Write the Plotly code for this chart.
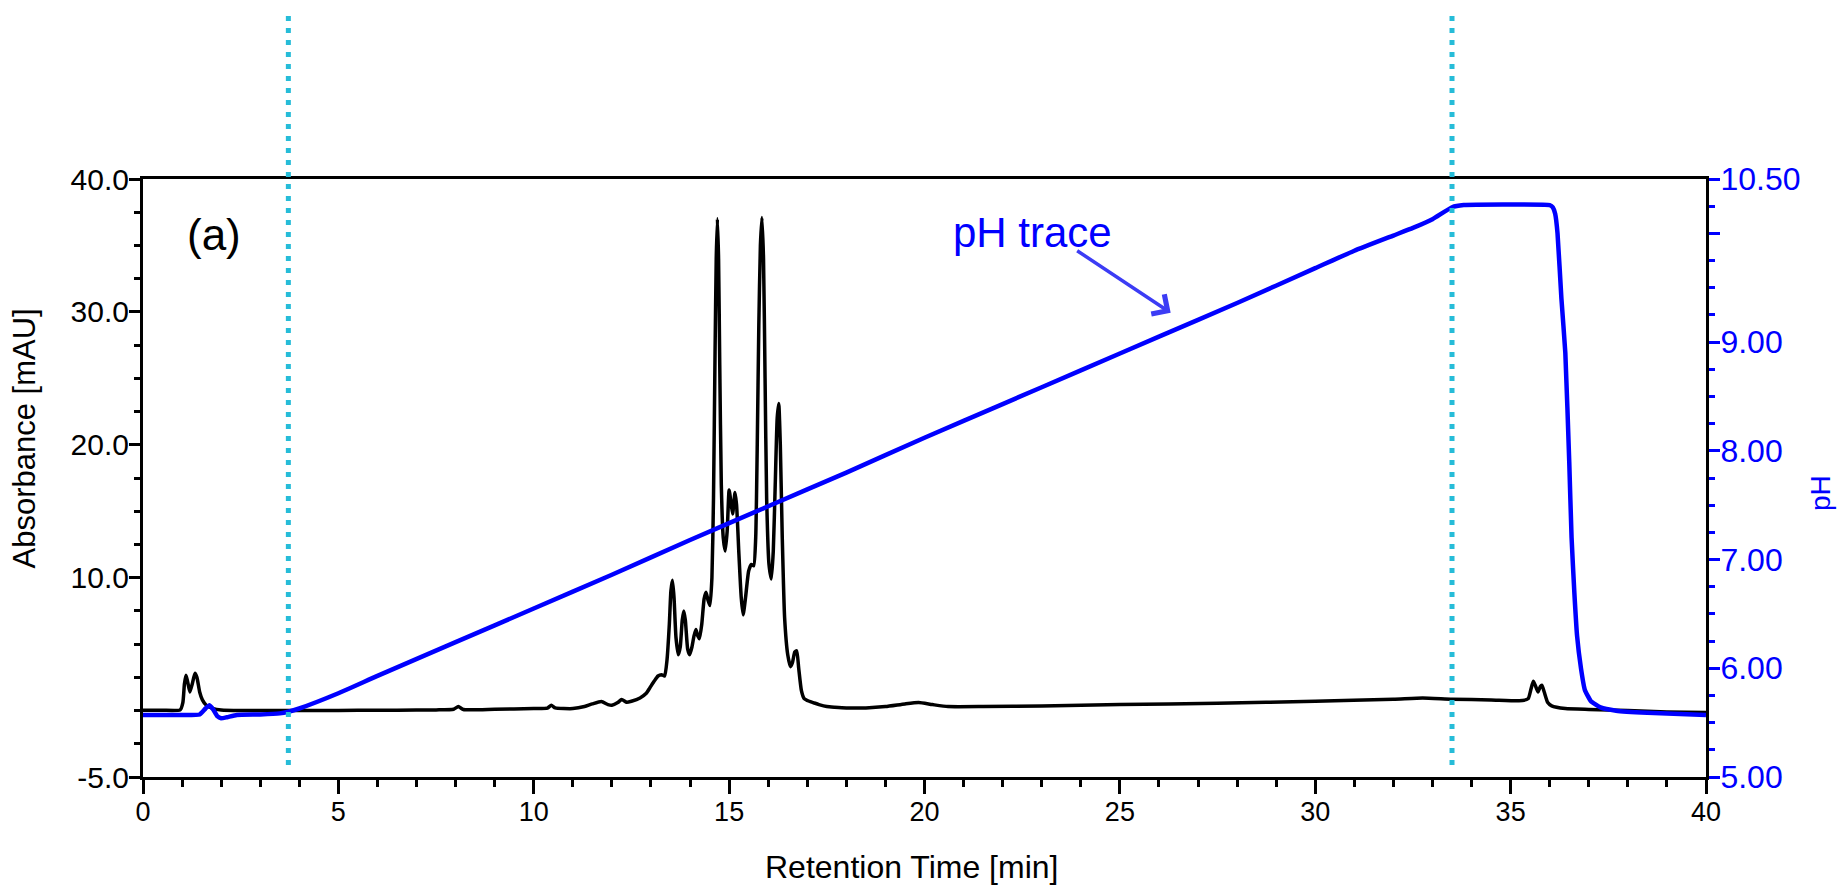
import plotly.graph_objects as go

# ---------------- data ----------------
time_abs = [0.0, 0.5, 0.95, 1.02, 1.06, 1.10, 1.14, 1.20, 1.26, 1.33, 1.38, 1.45, 1.52, 1.62, 1.80, 2.0,
            2.5, 3.0, 3.7, 4.5, 5.5, 6.5, 7.5, 7.95, 8.07, 8.2, 9.0, 10.0, 10.35, 10.45, 10.55, 11.0,
            11.3, 11.5, 11.73, 11.9, 12.0, 12.15, 12.25, 12.38, 12.5, 12.72, 12.88, 12.97, 13.08, 13.18,
            13.27, 13.35, 13.41, 13.47, 13.51, 13.55, 13.59, 13.64, 13.70, 13.75, 13.80, 13.84, 13.88,
            13.94, 13.99, 14.05, 14.10, 14.15, 14.20, 14.24, 14.30, 14.36, 14.41, 14.46, 14.51, 14.56,
            14.60, 14.64, 14.67, 14.70, 14.73, 14.76, 14.80, 14.85, 14.90, 14.95, 15.00, 15.05, 15.09,
            15.15, 15.19, 15.25, 15.31, 15.36, 15.42, 15.50, 15.57, 15.63, 15.68, 15.72, 15.76, 15.80,
            15.84, 15.88, 15.92, 15.96, 16.02, 16.08, 16.13, 16.18, 16.23, 16.27, 16.31, 16.36, 16.42,
            16.50, 16.57, 16.62, 16.68, 16.73, 16.78, 16.85, 16.92, 17.05, 17.15, 17.3, 17.5, 17.7,
            18.0, 18.5, 19.0, 19.5, 19.85, 20.2, 20.6, 21.5, 23.0, 25.0, 27.5, 30.0, 32.0, 32.75, 33.5,
            34.5, 35.3, 35.45, 35.52, 35.58, 35.63, 35.70, 35.76, 35.80, 35.86, 35.95, 36.05, 36.4,
            37.0, 38.0, 39.0, 40.0]
absorbance = [0.02, 0.02, 0.05, 0.6, 2.0, 2.65, 2.2, 1.4, 2.0, 2.8, 2.5, 1.4, 0.8, 0.4, 0.15, 0.05,
              0.0, 0.0, 0.0, 0.0, 0.02, 0.03, 0.05, 0.1, 0.3, 0.08, 0.1, 0.15, 0.18, 0.4, 0.2, 0.15,
              0.3, 0.5, 0.68, 0.45, 0.4, 0.6, 0.83, 0.62, 0.7, 0.95, 1.3, 1.7, 2.2, 2.6,
              2.7, 2.6, 3.8, 6.5, 9.0, 9.8, 8.5, 5.5, 4.2, 4.8, 6.8, 7.5, 6.8,
              4.6, 4.2, 4.8, 5.6, 6.1, 5.6, 5.4, 6.5, 8.4, 8.9, 8.3, 7.9, 10.0,
              16.0, 27.0, 34.0, 37.0, 34.0, 26.0, 17.0, 13.0, 12.0, 13.5, 16.6, 15.6, 14.8,
              16.4, 15.5, 11.8, 8.5, 7.2, 8.5, 10.5, 11.0, 10.9, 13.0, 20.0, 29.0, 35.0,
              37.1, 34.0, 25.0, 16.0, 11.0, 9.9, 12.0, 17.0, 22.0, 23.1, 20.0, 13.0, 7.0,
              4.2, 3.3, 3.6, 4.4, 4.5, 3.2, 1.5, 0.9, 0.7, 0.6, 0.45, 0.3, 0.25,
              0.2, 0.2, 0.3, 0.5, 0.6, 0.45, 0.3, 0.3, 0.35, 0.45, 0.55, 0.7, 0.85, 0.95, 0.85,
              0.8, 0.75, 0.9, 1.6, 2.2, 1.9, 1.4, 1.8, 1.9, 1.4, 0.6, 0.35, 0.15,
              0.08, 0.0, -0.1, -0.15]

time_ph = [0.0, 1.0, 1.45, 1.6, 1.7, 1.8, 1.9, 2.0, 2.15, 2.4, 3.0, 3.5, 3.72, 4.0, 5.0, 6.0, 8.0,
           10.0, 12.0, 14.0, 16.0, 18.0, 20.0, 22.0, 24.0, 26.0, 28.0, 30.0, 31.0, 32.0, 32.5,
           33.0, 33.5, 33.8, 35.0, 36.0, 36.08, 36.14, 36.2, 36.3, 36.4, 36.5, 36.56, 36.63,
           36.7, 36.8, 36.9, 37.05, 37.3, 37.7, 38.5, 40.0]
ph = [5.57, 5.57, 5.575, 5.63, 5.66, 5.62, 5.56, 5.54, 5.55, 5.57, 5.575, 5.585, 5.60, 5.63, 5.77, 5.93, 6.24,
      6.55, 6.86, 7.18, 7.49, 7.80, 8.12, 8.43, 8.74, 9.05, 9.36, 9.68, 9.84, 9.98, 10.05,
      10.13, 10.24, 10.26, 10.265, 10.26, 10.24, 10.18, 10.0, 9.4, 8.9, 7.9, 7.2, 6.7,
      6.3, 6.0, 5.8, 5.7, 5.64, 5.61, 5.59, 5.57]

x_tickvals = [0, 5, 10, 15, 20, 25, 30, 35, 40]
x_ticktext = ["0", "5", "10", "15", "20", "25", "30", "35", "40"]
y_tickvals = [-5, 10, 20, 30, 40]
y_ticktext = ["-5.0", "10.0", "20.0", "30.0", "40.0"]
y2_tickvals = [5, 6, 7, 8, 9, 10, 10.5]
y2_ticktext = ["5.00", "6.00", "7.00", "8.00", "9.00", "", "10.50"]
gradient_marks = [3.72, 33.5]
arrow_point = (26.3, 9.27)

BLUE = "#0000ff"
FONT = "Liberation Sans, Arial, sans-serif"

fig = go.Figure()
fig.add_trace(go.Scatter(x=time_abs, y=absorbance, mode="lines",
                         line=dict(color="black", width=3.5, shape="spline", smoothing=0.5),
                         yaxis="y", showlegend=False))
fig.add_trace(go.Scatter(x=time_ph, y=ph, mode="lines",
                         line=dict(color=BLUE, width=4.5, shape="spline", smoothing=0.4),
                         yaxis="y2", showlegend=False))

for xm in gradient_marks:
    fig.add_shape(type="line", x0=xm, x1=xm, xref="x", yref="paper", y0=0.02, y1=1.28,
                  line=dict(color="#26bcd8", width=5, dash="5px,7px"), layer="above")

fig.update_layout(
    width=1841, height=889,
    margin=dict(l=143, r=135, t=179, b=112),
    paper_bgcolor="white", plot_bgcolor="white",
    font=dict(family=FONT, color="black"),
    xaxis=dict(range=[0, 40], tickmode="array", tickvals=x_tickvals, ticktext=x_ticktext,
               showline=True, linecolor="black", linewidth=3, mirror=True,
               ticks="outside", ticklen=14, tickwidth=3, tickcolor="black",
               minor=dict(tickmode="linear", tick0=0, dtick=1, ticks="outside", ticklen=7,
                          tickwidth=3, tickcolor="black"),
               tickfont=dict(size=27, color="black", family=FONT), ticklabelstandoff=-5,
               showgrid=False, zeroline=False),
    yaxis=dict(range=[-5, 40], tickmode="array", tickvals=y_tickvals, ticktext=y_ticktext,
               showline=True, linecolor="black", linewidth=3,
               ticks="outside", ticklen=11, tickwidth=3, tickcolor="black",
               minor=dict(tickmode="linear", tick0=0, dtick=2.5, ticks="outside", ticklen=6,
                          tickwidth=3, tickcolor="black"),
               tickfont=dict(size=30, color="black", family=FONT), ticklabelstandoff=-6,
               showgrid=False, zeroline=False),
    yaxis2=dict(range=[5, 10.5], overlaying="y", side="right", anchor="x",
                tickmode="array", tickvals=y2_tickvals, ticktext=y2_ticktext,
                showline=True, linecolor="black", linewidth=3,
                ticks="outside", ticklen=11, tickwidth=3, tickcolor=BLUE,
                minor=dict(tickmode="linear", tick0=5, dtick=0.25, ticks="outside", ticklen=6,
                           tickwidth=3, tickcolor=BLUE),
                tickfont=dict(size=32, color=BLUE, family=FONT), ticklabelstandoff=-6,
                showgrid=False, zeroline=False),
)

fig.add_annotation(text="Absorbance [mAU]", xref="paper", yref="paper", x=-0.0755, y=0.566,
                   textangle=-90, showarrow=False, font=dict(size=31, color="black", family=FONT),
                   xanchor="center", yanchor="middle")
fig.add_annotation(text="pH", xref="paper", yref="paper", x=1.0736, y=0.475,
                   textangle=-90, showarrow=False, font=dict(size=28, color=BLUE, family=FONT),
                   xanchor="center", yanchor="middle")
fig.add_annotation(text="Retention Time [min]", xref="paper", yref="paper", x=0.4914, y=-0.150,
                   showarrow=False, font=dict(size=32, color="black", family=FONT),
                   xanchor="center", yanchor="middle")
fig.add_annotation(text="(a)", xref="paper", yref="paper", x=0.0452, y=0.9067,
                   showarrow=False, font=dict(size=44, color="black", family=FONT),
                   xanchor="center", yanchor="middle")
fig.add_annotation(text="pH trace", xref="paper", yref="paper", x=0.5688, y=0.9105,
                   showarrow=False, font=dict(size=42, color=BLUE, family=FONT),
                   xanchor="center", yanchor="middle")
fig.add_annotation(text="", x=arrow_point[0], y=arrow_point[1], xref="x", yref="y2",
                   ax=-95, ay=-63, showarrow=True, arrowhead=4, arrowsize=1.3, arrowwidth=3.5,
                   arrowcolor="#3c3cf5")

fig.write_html("out.html")
